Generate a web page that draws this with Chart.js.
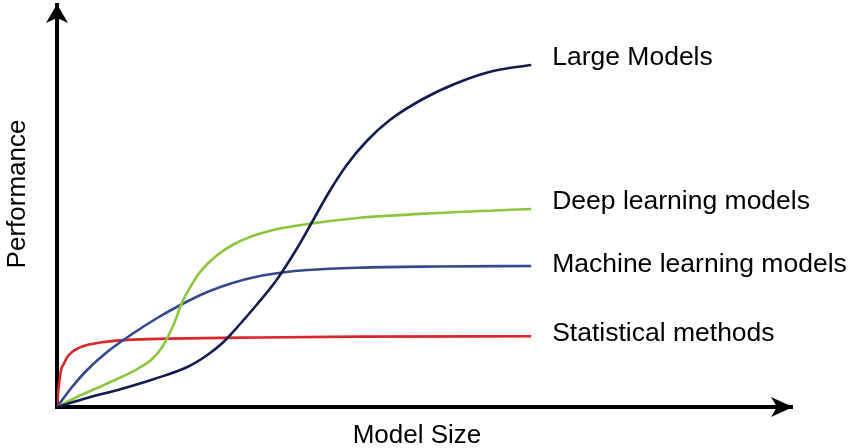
<!DOCTYPE html>
<html>
<head>
<meta charset="utf-8">
<script src="https://cdn.jsdelivr.net/npm/chart.js@4.4.1/dist/chart.umd.min.js"></script>
<style>
  html, body { margin: 0; padding: 0; background: #fff; }
  #wrap { width: 853px; height: 448px; }
</style>
</head>
<body>
<div id="wrap"><canvas id="growth"></canvas></div>
<script>
// Curves: model size (0..155) vs performance (0..100)
const seriesNames = ["Large Models", "Deep learning models", "Machine learning models", "Statistical methods"];
const seriesColors = ["#151b4e", "#8cc63f", "#36488c", "#d8262b"];

const largeX = [0, 6.34, 13.53, 20.51, 27.48, 31.71, 34.88, 38.05, 42.07, 46.3, 50.53, 53.91, 57.51, 61.1, 65.33, 70.19, 77.17, 84.36, 91.97, 100];
const largeY = [0, 2.24, 4.48, 6.97, 9.95, 12.94, 15.92, 19.9, 25.37, 31.59, 39.3, 46.27, 53.73, 60.2, 66.17, 71.39, 76.62, 80.6, 83.58, 85.07];

const deepX = [0, 4.23, 8.46, 12.68, 16.91, 20.08, 22.2, 23.47, 24.74, 26.43, 28.12, 30.02, 31.71, 33.83, 37, 41.23, 46.51, 52.85, 63.42, 80.34, 100];
const deepY = [0, 2.49, 4.73, 6.97, 9.45, 11.94, 14.93, 17.66, 20.9, 26.12, 29.85, 33.33, 35.57, 37.81, 40.3, 42.54, 44.28, 45.52, 47.01, 48.26, 49.25];

const mlX = [0, 3.17, 6.34, 10.57, 15.86, 21.14, 26.43, 31.71, 37, 42.28, 47.57, 52.85, 63.42, 80.34, 100];
const mlY = [0, 4.98, 9.2, 13.68, 18.16, 22.14, 25.62, 28.61, 30.85, 32.46, 33.46, 34.08, 34.65, 34.95, 35.07];

const statX = [0, 0.21, 0.42, 0.85, 1.48, 2.11, 3.17, 4.65, 6.34, 9.51, 14.8, 23.3, 42.3, 63.4, 100];
const statY = [0, 3.2, 5.5, 9.2, 10.8, 12.3, 13.7, 14.7, 15.4, 16.1, 16.7, 17.0, 17.3, 17.5, 17.6];

const FONT = '"Liberation Sans", Arial, Helvetica, sans-serif';

function pairs(xs, ys) {
  return xs.map((x, i) => ({ x: x, y: ys[i] }));
}

const seriesData = [pairs(largeX, largeY), pairs(deepX, deepY), pairs(mlX, mlY), pairs(statX, statY)];

// arrows, axis titles and end labels
const decorations = {
  id: "decorations",
  afterDraw(chart, args, opts) {
    const ctx = chart.ctx;
    const a = chart.chartArea;
    ctx.save();
    ctx.fillStyle = "#000";

    // up arrow
    ctx.beginPath();
    ctx.moveTo(a.left, a.top - 1);
    ctx.lineTo(a.left + 11, a.top + 18);
    ctx.lineTo(a.left, a.top + 13);
    ctx.lineTo(a.left - 11, a.top + 18);
    ctx.closePath();
    ctx.fill();

    // right arrow
    ctx.beginPath();
    ctx.moveTo(a.right + 1, a.bottom);
    ctx.lineTo(a.right - 21, a.bottom + 10);
    ctx.lineTo(a.right - 15, a.bottom);
    ctx.lineTo(a.right - 21, a.bottom - 10);
    ctx.closePath();
    ctx.fill();

    ctx.font = "26px " + FONT;
    ctx.textAlign = "center";
    ctx.textBaseline = "alphabetic";
    ctx.fillText("Model Size", 417, 443);

    ctx.save();
    ctx.translate(25, 194);
    ctx.rotate(-Math.PI / 2);
    ctx.fillText("Performance", 0, 0);
    ctx.restore();

    ctx.font = "26.5px " + FONT;
    ctx.textAlign = "left";
    chart.data.datasets.forEach((ds, i) => {
      const pts = chart.getDatasetMeta(i).data;
      const last = pts[pts.length - 1];
      ctx.fillText(ds.label, last.x + 21, last.y + opts.dy[i]);
    });
    ctx.restore();
  }
};

new Chart(document.getElementById("growth"), {
  type: "line",
  data: {
    datasets: seriesNames.map((name, i) => ({
      label: name,
      data: seriesData[i],
      borderColor: seriesColors[i],
      borderWidth: 2.6,
      pointRadius: 0,
      fill: false,
      cubicInterpolationMode: "monotone",
    })),
  },
  options: {
    responsive: true,
    maintainAspectRatio: false,
    animation: false,
    layout: { padding: { left: 49, top: 5, right: 61, bottom: 33 } },
    scales: {
      x: {
        type: "linear",
        min: 0,
        max: 155,
        grid: { display: false },
        ticks: { display: false },
        border: { display: true, color: "#000", width: 4 },
      },
      y: {
        min: 0,
        max: 100,
        grid: { display: false },
        ticks: { display: false },
        border: { display: true, color: "#000", width: 4 },
      },
    },
    plugins: {
      legend: { display: false },
      tooltip: { enabled: false },
      decorations: { dy: [0, 0, 6, 5] },
    },
  },
  plugins: [decorations],
});
</script>
</body>
</html>
